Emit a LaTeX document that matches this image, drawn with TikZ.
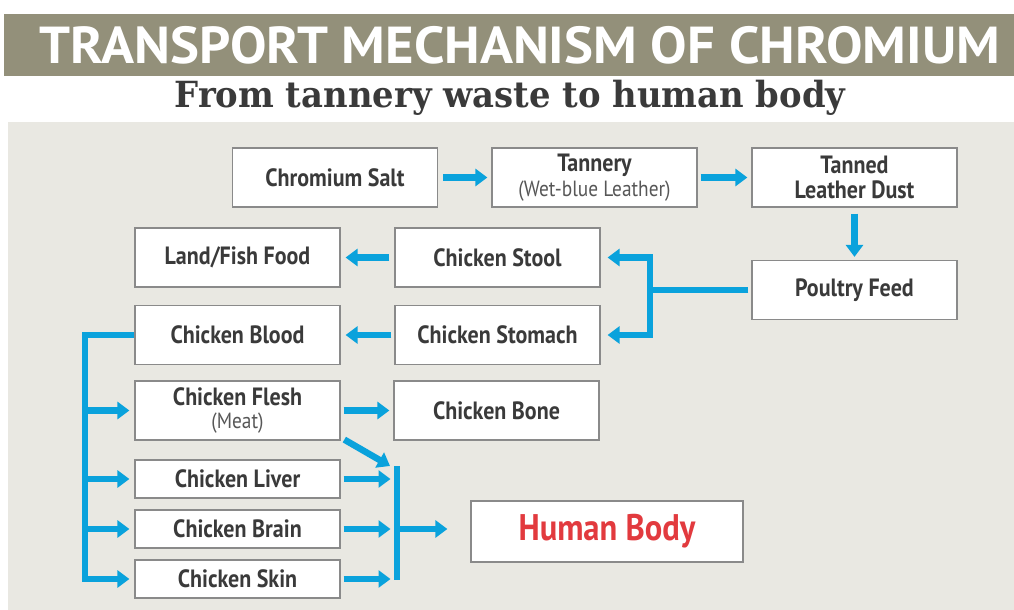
\documentclass[tikz,border=0pt]{standalone}
\usepackage{fontspec}
\setmainfont{PT Sans}[FakeStretch=0.88]
\newfontfamily\headfont{PT Sans}[FakeStretch=1.05]
\newfontfamily\subfont{DejaVu Serif}[FakeStretch=0.94]
\usetikzlibrary{arrows.meta,positioning}

\definecolor{bandgray}{RGB}{147,144,122}
\definecolor{panelgray}{RGB}{233,232,226}
\definecolor{flow}{RGB}{10,162,220}
\definecolor{ink}{RGB}{58,58,58}
\definecolor{boxline}{RGB}{138,138,138}
\definecolor{alert}{RGB}{226,58,62}

\newcommand{\subnote}[1]{{\mdseries\fontsize{22}{22}\selectfont\color{ink!85}#1}}

\tikzset{
  box/.style={draw=boxline, line width=1.2pt, fill=white, text=ink, align=center,
    inner sep=0pt, minimum width=205pt, minimum height=59pt,
    font=\bfseries\fontsize{25}{25}\selectfont},
  slimbox/.style={box, minimum height=38pt},
  link/.style={draw=flow, line width=6.5pt},
  arr/.style={link, -{Triangle[width=17pt,length=12pt]}, shorten >=4pt, shorten <=4pt}
}

\begin{document}
\begin{tikzpicture}[x=1pt, y=-1pt]
    \useasboundingbox (0,0) rectangle (1014,610);
    \fill[bandgray] (4,14) rectangle (1014,76);
    \fill[panelgray] (8,122) rectangle (1014,610);
    \node[text=white, font=\headfont\bfseries\fontsize{52}{52}\selectfont] (title) at (520,45) {TRANSPORT MECHANISM OF CHROMIUM};
    \node[text=ink, font=\subfont\bfseries\fontsize{36}{36}\selectfont] (subtitle) at (510,98) {From tannery waste to human body};

    \node[box] (salt) at (335,177.5) {Chromium Salt};
    \node[box] (tannery) at (594.5,177.5) {Tannery\\\subnote{(Wet-blue Leather)}};
    \node[box] (dust) at (854.5,177.5) {Tanned\\Leather Dust};
    \node[box] (feed) at (854.5,290) {Poultry Feed};
    \node[box] (landfish) at (237.5,257.5) {Land/Fish Food};
    \node[box] (stool) at (497.5,257.5) {Chicken Stool};
    \node[box] (blood) at (237.5,335) {Chicken Blood};
    \node[box] (stomach) at (497.5,335) {Chicken Stomach};
    \node[box] (flesh) at (237.5,410.5) {Chicken Flesh\\[-2pt]\subnote{(Meat)}};
    \node[box] (bone) at (496.5,410.5) {Chicken Bone};
    \node[slimbox] (liver) at (237.5,479) {Chicken Liver};
    \node[slimbox] (brain) at (237.5,529) {Chicken Brain};
    \node[slimbox] (skin) at (237.5,579) {Chicken Skin};
    \node[box, minimum width=272pt, minimum height=61pt, text=alert, font=\bfseries\fontsize{37}{37}\selectfont] (human) at (607,531.5) {Human Body};

    % top row
    \draw[arr, shorten <=5pt] (salt) -- (tannery);
    \draw[arr, shorten <=3pt] (tannery) -- (dust);
    \draw[arr, shorten <=6pt, shorten >=3pt] (dust) -- (feed);

    % poultry feed splits
    \coordinate (fork) at (650,290);
    \draw[link, shorten <=3pt] (feed) -- (fork);
    \draw[arr, shorten <=-3.25pt, shorten >=7pt] (fork) |- (stool);
    \draw[arr, shorten <=-3.25pt, shorten >=7pt] (fork) |- (stomach);
    \draw[arr, shorten <=5pt, shorten >=5pt] (stool) -- (landfish);
    \draw[arr, shorten <=3pt, shorten >=5pt] (stomach) -- (blood);

    % blood to the organs
    \coordinate (trunk) at (85,335);
    \draw[arr, shorten <=0pt, shorten >=5pt] (blood) -- (trunk) |- (skin);
    \foreach \organ in {flesh,liver,brain}
        \draw[arr, shorten <=0pt, shorten >=5pt] (trunk |- \organ) -- (\organ);
    \draw[arr, shorten <=3pt] (flesh) -- (bone);

    % organs to human body
    \coordinate (bartop) at (397,466);
    \coordinate (barbot) at (397,580);
    \coordinate (barmid) at (397,529);
    \draw[link] (bartop) -- (barbot);
    \draw[arr, shorten <=2pt, shorten >=0pt] ([shift={(2,-2)}]flesh.south east) -- ([xshift=-7pt]bartop);
    \foreach \organ in {liver,brain,skin}
        \draw[arr, shorten <=3pt, shorten >=6.5pt] (\organ.east) -- (\organ.east -| bartop);
    \draw[arr, shorten <=0pt, shorten >=23pt] (barmid) -- (barmid -| human.west);
\end{tikzpicture}
\end{document}
